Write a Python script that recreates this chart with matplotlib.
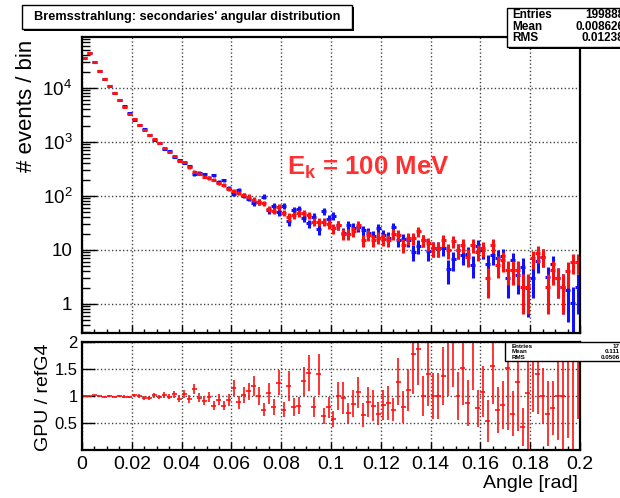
import numpy as np
import matplotlib
matplotlib.use('Agg')
import matplotlib.pyplot as plt
from matplotlib.patches import Rectangle
from matplotlib.ticker import FixedLocator, FixedFormatter, LogLocator, NullFormatter, MultipleLocator

plt.rcParams['font.family'] = ['Liberation Sans', 'DejaVu Sans']
plt.rcParams['mathtext.fontset'] = 'custom'
plt.rcParams['mathtext.rm'] = 'Liberation Sans'
plt.rcParams['mathtext.bf'] = 'Liberation Sans:bold'

# histogram: 100 bins from 0 to 0.2 rad
bin_edges = np.linspace(0, 0.2, 101)

# GPU (red)
gpu_counts = [36000, 45000, 30000, 21000, 14800, 10900, 8100, 6000, 4500, 3340,
              2630, 2050, 1700, 1320, 1120, 950, 765, 660, 550, 445,
              430, 340, 283, 260, 229, 215, 200, 171, 160, 133,
              125, 115, 104, 97, 86, 78, 73, 57, 53, 63,
              49, 41, 44, 48, 49, 44, 33, 33, 33, 30,
              25, 29, 20, 20, 22, 29, 15, 19, 15, 17,
              16, 15, 20, 19, 12.4, 16.5, 16.5, 22, 15, 13.3,
              10.7, 10.7, 15, 10, 14.7, 10, 12.4, 7.5, 12.4, 9.3,
              10.7, 3.0, 12.4, 5.3, 6.5, 4.3, 4.3, 4.3, 2.1, 2.1,
              7.0, 8.7, 7.5, 2.1, 4.3, 3.0, 2.1, 4.0, 6.1, 6.1]

# reference Geant4 (blue)
ref_counts = [36000, 45000, 29700, 21000, 14950, 10900, 8180, 6000, 4550, 3400,
              2600, 2050, 1770, 1375, 1110, 970, 750, 667, 534, 468,
              413, 358, 250, 268, 252, 219, 244, 184, 195, 143,
              109, 131, 102, 89, 73, 78, 97, 54, 66, 50,
              65, 34, 55, 58, 39, 31, 41, 24, 52, 38,
              43, 29, 21, 29, 26, 27, 23, 21, 18, 25,
              19, 17, 27, 15, 16, 15, 9.3, 11.8, 15, 9.4,
              10.7, 10.7, 11, 4.5, 6.7, 10, 8.2, 8.6, 5.3, 12,
              9.9, 5.6, 8.0, 7.2, 7.8, 3.0, 6.4, 3.4, 4.9, 2.0,
              3.0, 6.2, 7.5, 3.1, 5.5, 3.0, 2.1, 1.8, 1.05, 2.1]

# GPU / refG4 ratio
ratio = [1.00, 1.00, 1.01, 1.00, 0.99, 1.00, 0.99, 1.00, 0.99, 0.98,
         1.01, 1.00, 0.96, 0.96, 1.01, 0.98, 1.02, 0.99, 1.03, 0.95,
         1.04, 0.95, 1.13, 0.97, 0.91, 0.98, 0.82, 0.93, 0.82, 0.93,
         1.15, 0.88, 1.02, 1.09, 1.18, 1.00, 0.75, 1.05, 0.80, 1.25,
         0.75, 1.19, 0.80, 0.82, 1.27, 1.43, 0.80, 1.40, 0.63, 0.79,
         0.58, 1.00, 0.96, 0.68, 0.86, 1.07, 0.65, 0.89, 0.82, 0.67,
         0.83, 0.87, 0.75, 1.26, 0.79, 1.11, 1.77, 1.87, 1.00, 1.41,
         1.00, 1.00, 1.37, 2.30, 2.20, 1.00, 1.51, 0.87, 2.30, 0.77,
         1.08, 0.54, 1.55, 0.74, 0.83, 1.51, 0.67, 1.26, 0.43, 1.05,
         2.30, 1.41, 1.00, 0.67, 0.78, 1.00, 1.00, 2.20, 5.80, 2.90]

ytick_vals = [1, 10, 100, 1000, 10000]
ytick_labels = ['1', '10', r'$10^{2}$', r'$10^{3}$', r'$10^{4}$']
xtick_vals = [0, 0.02, 0.04, 0.06, 0.08, 0.1, 0.12, 0.14, 0.16, 0.18, 0.2]
xtick_labels = ['0', '0.02', '0.04', '0.06', '0.08', '0.1', '0.12', '0.14', '0.16', '0.18', '0.2']

x = 0.5 * (bin_edges[1:] + bin_edges[:-1])
half_w = 0.5 * np.diff(bin_edges)
gpu = np.array(gpu_counts)
ref = np.array(ref_counts)
r = np.array(ratio)
r_err = r * np.sqrt(1.0 / gpu + 1.0 / ref)

W, H = 620, 498
fig = plt.figure(figsize=(W / 100, H / 100), dpi=100)
ax1 = fig.add_axes([82 / W, 1 - 333 / H, 498 / W, 296 / H])
ax2 = fig.add_axes([82 / W, 1 - 450 / H, 498 / W, 108 / H])

red = '#ff1010'
blue = '#1010ff'

# upper panel
ax1.errorbar(x, ref, yerr=np.sqrt(ref), xerr=half_w, fmt='none', ecolor=blue, elinewidth=2.2)
ax1.errorbar(x, gpu, yerr=np.sqrt(gpu), xerr=half_w, fmt='none', ecolor=red, elinewidth=2.2)
ax1.set_yscale('log')
ax1.set_xlim(0, 0.2)
ax1.set_ylim(0.29, 88000)
ax1.yaxis.set_major_locator(FixedLocator(ytick_vals))
ax1.yaxis.set_major_formatter(FixedFormatter(ytick_labels))
ax1.yaxis.set_minor_locator(LogLocator(base=10, subs=np.arange(2, 10), numticks=20))
ax1.yaxis.set_minor_formatter(NullFormatter())
ax1.xaxis.set_major_locator(FixedLocator(xtick_vals))
ax1.xaxis.set_minor_locator(MultipleLocator(0.005))
ax1.tick_params(axis='x', labelbottom=False)
ax1.tick_params(axis='y', which='major', length=11, labelsize=13.5, pad=7)
ax1.tick_params(axis='y', which='minor', length=6)
ax1.tick_params(axis='x', which='major', length=6)
ax1.tick_params(axis='x', which='minor', length=3)
ax1.text(0.0825, 245, r'$\mathbf{E_{k}}$ = 100 MeV', color='#ff3030', fontsize=18.5,
         fontweight='bold', va='baseline', ha='left')

# ratio panel
ax2.errorbar(x, r, yerr=r_err, xerr=half_w, fmt='none', ecolor=red, elinewidth=1.2)
ax2.set_xlim(0, 0.2)
ax2.set_ylim(0, 2)
ax2.yaxis.set_major_locator(FixedLocator([0.5, 1, 1.5, 2]))
ax2.yaxis.set_major_formatter(FixedFormatter(['0.5', '1', '1.5', '2']))
ax2.xaxis.set_major_locator(FixedLocator(xtick_vals))
ax2.xaxis.set_major_formatter(FixedFormatter(xtick_labels))
ax2.xaxis.set_minor_locator(MultipleLocator(0.005))
ax2.tick_params(axis='y', which='major', length=9.5, labelsize=12, pad=3)
ax2.tick_params(axis='x', which='major', length=6, labelsize=14, pad=4)
ax2.tick_params(axis='x', which='minor', length=3)

for ax in (ax1, ax2):
    ax.tick_params(which='both', direction='in', top=False, right=False, width=1)
    ax.grid(True, which='major', ls=':', color='#444444', lw=1)
    for s in ax.spines.values():
        s.set_linewidth(1.6)

fig.text(27 / W, 1 - 40 / H, '# events / bin', rotation=90, ha='center', va='top', fontsize=16)
fig.text(43 / W, 1 - 397 / H, 'GPU / refG4', rotation=90, ha='center', va='center', fontsize=14)
fig.text(578 / W, 1 - 483 / H, 'Angle [rad]', ha='right', va='center', fontsize=14)


def px_rect(x0, y0, x1, y1, **kw):
    # rectangle given in pixel coords from the top-left corner
    return Rectangle((x0 / W, 1 - y1 / H), (x1 - x0) / W, (y1 - y0) / H,
                     transform=fig.transFigure, **kw)


# title box with shadow
fig.patches.append(px_rect(24, 7, 354, 31, facecolor='black', edgecolor='none', zorder=5))
fig.patches.append(px_rect(22, 5, 352, 29, facecolor='white', edgecolor='black', lw=1, zorder=6))
fig.text(187 / W, 1 - 17 / H, "Bremsstrahlung: secondaries' angular distribution",
         ha='center', va='center', fontsize=9.2, fontweight='bold', zorder=7)

# stats box, upper panel
fig.patches.append(px_rect(509, 10, 640, 49, facecolor='black', edgecolor='none', zorder=5))
fig.patches.append(px_rect(507, 8, 640, 47, facecolor='white', edgecolor='black', lw=1, zorder=6))
for i, (k, v) in enumerate([('Entries', '199888'), ('Mean', '0.008626'), ('RMS', '0.01238')]):
    yy = 1 - (15 + 11.5 * i) / H
    fig.text(512 / W, yy, k, ha='left', va='center', fontsize=8.5, fontweight='bold', zorder=7)
    fig.text(624 / W, yy, v, ha='right', va='center', fontsize=8.5, fontweight='bold', zorder=7)

# stats box, ratio panel
fig.patches.append(px_rect(506, 343, 640, 362, facecolor='black', edgecolor='none', zorder=5))
fig.patches.append(px_rect(505, 342, 640, 361, facecolor='white', edgecolor='black', lw=1, zorder=6))
for i, (k, v) in enumerate([('Entries', '17'), ('Mean', '0.111'), ('RMS', '0.0506')]):
    yy = 1 - (346 + 5.5 * i) / H
    fig.text(512 / W, yy, k, ha='left', va='center', fontsize=4.5, fontweight='bold', zorder=7)
    fig.text(620 / W, yy, v, ha='right', va='center', fontsize=4.5, fontweight='bold', zorder=7)

fig.savefig('out.png', dpi=100)
